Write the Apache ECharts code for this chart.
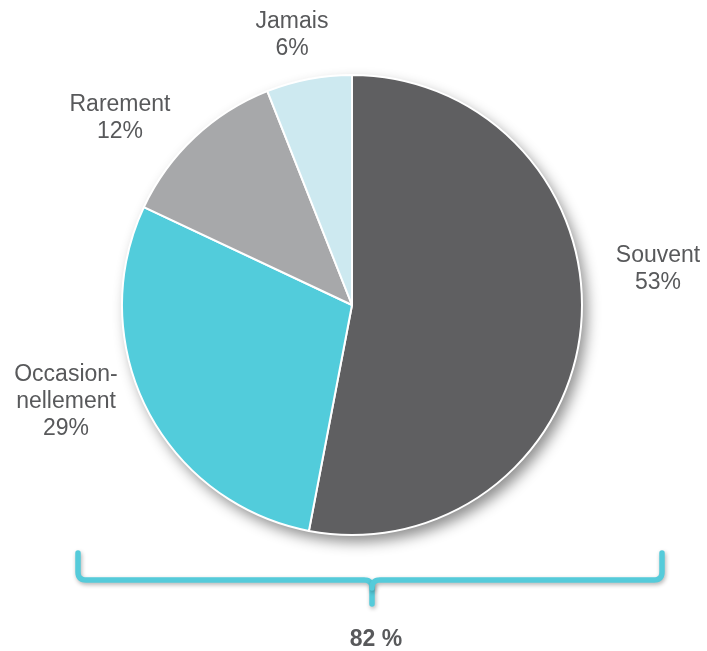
<!DOCTYPE html>
<html><head><meta charset="utf-8">
<script src="https://cdn.jsdelivr.net/npm/echarts@6/dist/echarts.min.js"></script>
<style>html,body{margin:0;padding:0;background:#fff}#c{width:707px;height:651px}</style>
</head><body><div id="c"></div>
<script>
const categories = ['Souvent', 'Occasion-\nnellement', 'Rarement', 'Jamais'];
const values = [53, 29, 12, 6];
const colors = ['#5f5f61', '#52ccdb', '#a7a8aa', '#cde9f0'];
const totalLabel = '82 %';
const labelPos = { 0: [658, 269], 1: [66, 402], 2: [120, 118], 3: [292, 35] };

function quad(p0, c, p1, n) {
  const pts = [];
  for (let i = 0; i <= n; i++) {
    const t = i / n;
    pts.push([(1-t)*(1-t)*p0[0] + 2*(1-t)*t*c[0] + t*t*p1[0], (1-t)*(1-t)*p0[1] + 2*(1-t)*t*c[1] + t*t*p1[1]]);
  }
  return pts;
}
const leftHalf = [[78,553]].concat(quad([78,572],[78,580],[86,580],8), quad([364,580],[372,580],[372,588],8), [[372,604]]);
const rightHalf = [[372,588]].concat(quad([372,588],[372,580],[380,580],8), quad([654,580],[662,580],[662,572],8), [[662,553]]);
const bracketStyle = { fill: null, stroke: '#55cbda', lineWidth: 5.5, lineCap: 'round', lineJoin: 'round',
  shadowBlur: 4, shadowColor: 'rgba(0,0,0,0.3)', shadowOffsetX: 1, shadowOffsetY: 2 };
const FONT = 'Arial';

const chart = echarts.init(document.getElementById('c'));
const center = [352, 305];
const radius = 230;
chart.setOption({
  animation: false,
  textStyle: { fontFamily: FONT },
  series: [
    {
      type: 'pie', silent: true, z: 1,
      center: center, radius: radius,
      label: { show: false }, labelLine: { show: false },
      itemStyle: { color: '#fff', shadowBlur: 14, shadowColor: 'rgba(0,0,0,0.45)', shadowOffsetX: 5, shadowOffsetY: 7 },
      data: [{ value: 1 }]
    },
    {
      type: 'pie', z: 2,
      center: center, radius: radius,
      startAngle: 90, clockwise: true,
      itemStyle: { borderColor: '#fff', borderWidth: 2 },
      label: {
        show: true, position: 'outside', overflow: 'none',
        formatter: p => p.name + '\n' + p.value + '%',
        fontFamily: FONT,
        fontSize: 23, lineHeight: 27, color: '#58595b', align: 'center'
      },
      labelLine: { show: false },
      labelLayout: p => ({ x: labelPos[p.dataIndex][0], y: labelPos[p.dataIndex][1], align: 'center', verticalAlign: 'middle' }),
      data: categories.map((c, i) => ({ name: c, value: values[i], itemStyle: { color: colors[i] } }))
    }
  ],
  graphic: [
    { type: 'polyline', shape: { points: leftHalf }, style: bracketStyle },
    { type: 'polyline', shape: { points: rightHalf }, style: bracketStyle },
    {
      type: 'text', x: 376, y: 640,
      style: { text: totalLabel, font: 'bold 23px Arial',
               fill: '#58595b', align: 'center', verticalAlign: 'middle' }
    }
  ]
});
</script></body></html>
